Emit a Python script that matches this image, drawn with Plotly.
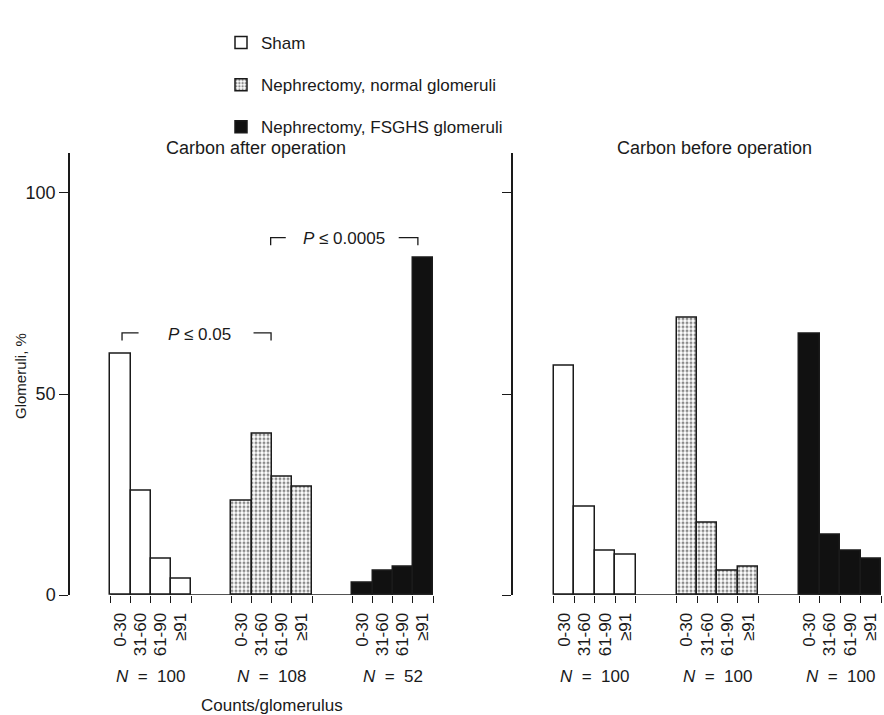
import plotly.graph_objects as go

# ---------------- data ----------------
bins = ["0-30", "31-60", "61-90", "≥91"]
groups = ["Sham", "Nephrectomy, normal glomeruli", "Nephrectomy, FSGHS glomeruli"]

after_sham = [60, 26, 9, 4]
after_normal = [23.5, 40, 29.5, 27]
after_fsghs = [3, 6, 7, 84]

before_sham = [57, 22, 11, 10]
before_normal = [69, 18, 6, 7]
before_fsghs = [65, 15, 11, 9]

n_after = [100, 108, 52]
n_before = [100, 100, 100]

panel_titles = ["Carbon after operation", "Carbon before operation"]
y_ticks = [0, 50, 100]

# ---------------- style ----------------
FONT = "Liberation Sans, Arial, sans-serif"
INK = "#1a1a1a"
GROUP_STEP = 6  # 4 bars + 2 empty slots
styles = [
    dict(color="white", pattern=None),
    dict(color="white", pattern=dict(shape=".", size=4, solidity=0.45, fgcolor="#1a1a1a", bgcolor="white")),
    dict(color="#111", pattern=None),
]

def positions(g):
    return [g * GROUP_STEP + i for i in range(len(bins))]

fig = go.Figure()
panels = [
    ("x", "y", [after_sham, after_normal, after_fsghs], n_after),
    ("x2", "y2", [before_sham, before_normal, before_fsghs], n_before),
]

for p, (xa, ya, series, ns) in enumerate(panels):
    for g, vals in enumerate(series):
        st = styles[g]
        marker = dict(color=st["color"], line=dict(color=INK, width=1.5))
        if st["pattern"]:
            marker["pattern"] = st["pattern"]
        fig.add_trace(go.Bar(
            x=positions(g), y=vals, width=1.0, name=groups[g],
            marker=marker, xaxis=xa, yaxis=ya,
            showlegend=(p == 0), legendgroup=groups[g],
        ))

centers = [c for g in range(len(groups)) for c in positions(g)]
labels = [b for g in range(len(groups)) for b in bins]
edges = sorted({e for g in range(len(groups)) for c in positions(g) for e in (c - 0.5, c + 0.5)})

xcommon = dict(
    range=[-2.5, 15.5], showgrid=False, zeroline=False, showline=False,
    tickmode="array", tickvals=centers, ticktext=labels, tickangle=-90,
    ticks="outside", ticklen=10, tickcolor="rgba(0,0,0,0)",
    tickfont=dict(family=FONT, size=17, color=INK),
    minor=dict(tickmode="array", tickvals=edges, ticks="outside", ticklen=7,
               tickcolor=INK, tickwidth=1.3),
    automargin=False, fixedrange=True,
)
ycommon = dict(
    range=[0, 110], showgrid=False, zeroline=False, showline=True,
    linecolor=INK, linewidth=1.5, tickmode="array", tickvals=y_ticks,
    ticks="outside", ticklen=9, tickcolor=INK, tickwidth=1.3,
    tickfont=dict(family=FONT, size=18, color=INK),
    automargin=False, fixedrange=True,
)

ydom = [0.1678, 0.7863]
fig.update_layout(
    width=884, height=715,
    margin=dict(l=0, r=0, t=0, b=0),
    paper_bgcolor="white", plot_bgcolor="white",
    bargap=0,
    font=dict(family=FONT, color=INK, size=17),
    xaxis=dict(domain=[70 / 884, 433 / 884], anchor="y", **xcommon),
    yaxis=dict(domain=ydom, anchor="x", **ycommon),
    xaxis2=dict(domain=[513 / 884, 881 / 884], anchor="y2", **xcommon),
    yaxis2=dict(domain=ydom, anchor="x2", showticklabels=False, **ycommon),
    legend=dict(x=221 / 884, y=1 - 25 / 715, xanchor="left", yanchor="top",
                font=dict(family=FONT, size=17, color=INK),
                tracegroupgap=17, traceorder="grouped", bgcolor="rgba(0,0,0,0)"),
    showlegend=True,
)

# baselines spanning the bars of each panel
for xa, ya in [("x", "y"), ("x2", "y2")]:
    fig.add_shape(type="line", xref=xa, yref=ya, x0=edges[0], x1=edges[-1], y0=0, y1=0,
                  line=dict(color=INK, width=1.5))

# panel titles
fig.add_annotation(text=panel_titles[0], xref="paper", yref="paper", x=256 / 884, y=1 - 148 / 715,
                   xanchor="center", yanchor="middle", showarrow=False, font=dict(size=18))
fig.add_annotation(text=panel_titles[1], xref="paper", yref="paper", x=714 / 884, y=1 - 148 / 715,
                   xanchor="center", yanchor="middle", showarrow=False, font=dict(size=18))

# N labels
for xa, ns in [("x", n_after), ("x2", n_before)]:
    for g, n in enumerate(ns):
        c = sum(positions(g)) / len(bins)
        fig.add_annotation(text=f"<i>N</i>  =  {n}", xref=xa, yref="paper", x=c, y=1 - 676 / 715,
                           xanchor="center", yanchor="middle", showarrow=False, font=dict(size=17))

fig.add_annotation(text="Counts/glomerulus", xref="paper", yref="paper", x=272 / 884, y=1 - 705 / 715,
                   xanchor="center", yanchor="middle", showarrow=False, font=dict(size=17))
fig.add_annotation(text="Glomeruli, %", xref="paper", yref="paper", x=20 / 884, y=1 - 376 / 715,
                   xanchor="center", yanchor="middle", showarrow=False, textangle=-90,
                   font=dict(size=15))

# significance brackets
brackets = [
    # (left x, left inner, right inner, right x, y top, y bottom, text, text x)
    (0.08, 0.9, 6.6, 7.47, 65.2, 63.3, "<i>P</i> ≤ 0.05", 3.9),
    (7.45, 8.2, 13.8, 14.75, 88.9, 87.0, "<i>P</i> ≤ 0.0005", 11.1),
]
for lx, li, ri, rx, yt, yb, txt, tx in brackets:
    fig.add_shape(type="path", xref="x", yref="y",
                  path=f"M{lx},{yb} L{lx},{yt} L{li},{yt}", line=dict(color=INK, width=1.3))
    fig.add_shape(type="path", xref="x", yref="y",
                  path=f"M{ri},{yt} L{rx},{yt} L{rx},{yb}", line=dict(color=INK, width=1.3))
    fig.add_annotation(text=txt, xref="x", yref="y", x=tx, y=yt - 0.3, showarrow=False,
                       xanchor="center", yanchor="middle", font=dict(size=17))

fig.write_html("out.html", config={"displayModeBar": False},
               post_script="document.body.style.margin='0';document.body.style.overflow='hidden';")
